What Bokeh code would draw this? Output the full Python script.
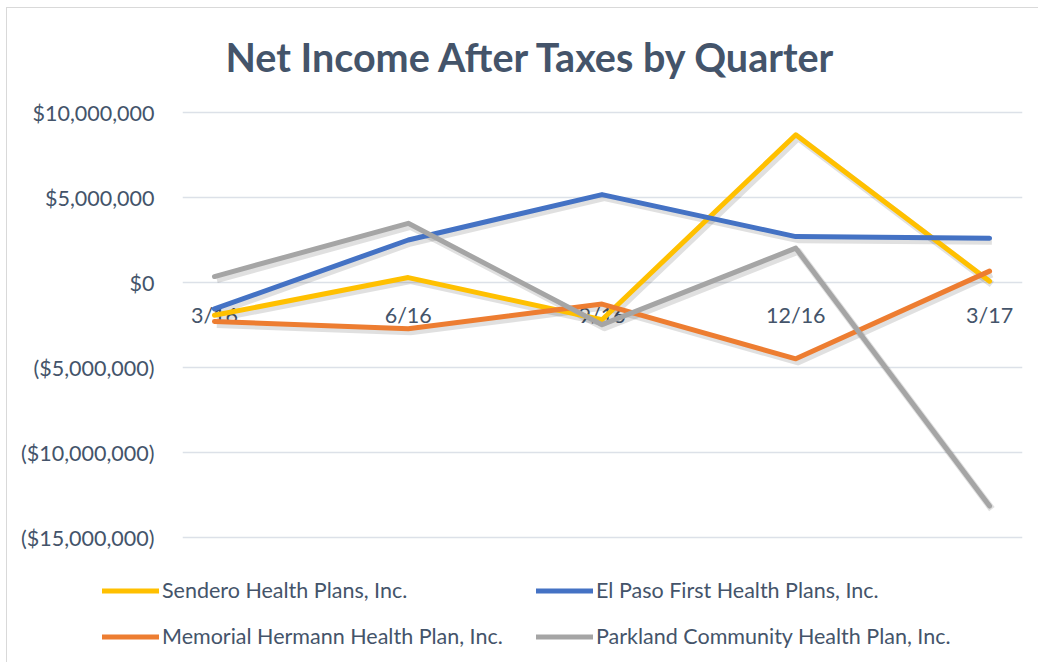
from bokeh.plotting import figure
from bokeh.layouts import column
from bokeh.models import Range1d, FixedTicker, NumeralTickFormatter, Legend, LegendItem, Label
from bokeh.core.properties import value
from bokeh.embed import file_html
from bokeh.resources import INLINE

title_text = "Net Income After Taxes by Quarter"
quarters = ["3/16", "6/16", "9/16", "12/16", "3/17"]
sendero = [-1930000, 290000, -2190000, 8690000, 80000]
el_paso = [-1550000, 2500000, 5170000, 2700000, 2610000]
memorial = [-2290000, -2720000, -1270000, -4490000, 670000]
parkland = [350000, 3480000, -2480000, 2020000, -13150000]
y_ticks = [-15000000, -10000000, -5000000, 0, 5000000, 10000000]

series = [
    ("Sendero Health Plans, Inc.", sendero, "#FFC000"),
    ("El Paso First Health Plans, Inc.", el_paso, "#4472C4"),
    ("Memorial Hermann Health Plan, Inc.", memorial, "#ED7D31"),
    ("Parkland Community Health Plan, Inc.", parkland, "#A5A5A5"),
]

FONT = "Lato"
TXT = "#44546A"
pad = 2 * 5000000 / 85  # 2px of headroom so the end gridlines show


def strip(h):
    f = figure(width=1031, height=h, output_backend="svg", toolbar_location=None,
               x_range=Range1d(10, 11), y_range=Range1d(0, 1), frame_align=False,
               min_border_left=0, min_border_right=0, min_border_top=0, min_border_bottom=0)
    f.axis.visible = False
    f.grid.visible = False
    f.outline_line_color = None
    return f


# title strip
t = strip(84)
t.add_layout(Label(x=218, y=36, x_units="screen", y_units="screen", text=title_text,
                   text_font=FONT, text_font_size="39.5px", text_font_style="bold",
                   text_color=TXT, text_align="left", text_baseline="middle"))

# main chart
p = figure(width=1031, height=476, output_backend="svg", toolbar_location=None,
           x_range=Range1d(-0.165, 4.17),
           y_range=Range1d(y_ticks[0] - pad, y_ticks[-1] + pad),
           min_border_left=175, min_border_right=16, min_border_top=18, min_border_bottom=29)
p.outline_line_color = None
p.xaxis.visible = False
p.xgrid.visible = False
p.ygrid.grid_line_color = "#dce1e8"
p.ygrid.grid_line_width = 1.5

yax = p.yaxis[0]
yax.ticker = FixedTicker(ticks=y_ticks)
yax.formatter = NumeralTickFormatter(format="($0,0)")
yax.axis_line_color = None
yax.major_tick_line_color = None
yax.minor_tick_line_color = None
yax.major_label_standoff = 22
yax.major_label_text_font = FONT
yax.major_label_text_font_size = "21.5px"
yax.major_label_text_color = TXT

xs = list(range(len(quarters)))
p.text(x=xs, y=[0] * len(xs), text=quarters, text_font=value(FONT), text_font_size="21.5px",
       text_color=TXT, text_align="center", text_baseline="middle", y_offset=32)

# soft shadow beneath each line
for name, vals, col in series:
    p.line([x + 0.012 for x in xs], [v - 180000 for v in vals], line_color="#000000",
           line_alpha=0.12, line_width=7, line_join="round")

for name, vals, col in series:
    p.line(xs, vals, line_color=col, line_width=5, line_join="round", line_cap="round")

# legend strip (its ranges show none of the data, only the legend swatches)
q = strip(94)
items = []
for name, vals, col in series:
    r = q.line(xs, vals, line_color=col, line_width=5, line_cap="round")
    items.append(LegendItem(label=name, renderers=[r]))
legend = Legend(items=items, ncols=2, location=(95, 13), orientation="horizontal",
                glyph_width=57, glyph_height=25, label_height=25, label_standoff=3, spacing=20,
                label_width=354, label_text_font=FONT, label_text_font_size="21.5px",
                label_text_color=TXT, background_fill_alpha=0, border_line_color=None,
                padding=0, margin=0)
q.add_layout(legend, "center")

layout = column(t, p, q, spacing=0,
                styles={"border-left": "1.5px solid #d9d9d9", "border-top": "1.5px solid #d9d9d9",
                        "margin-left": "6px", "margin-top": "7px"})

open("out.html", "w").write(file_html(layout, INLINE))
